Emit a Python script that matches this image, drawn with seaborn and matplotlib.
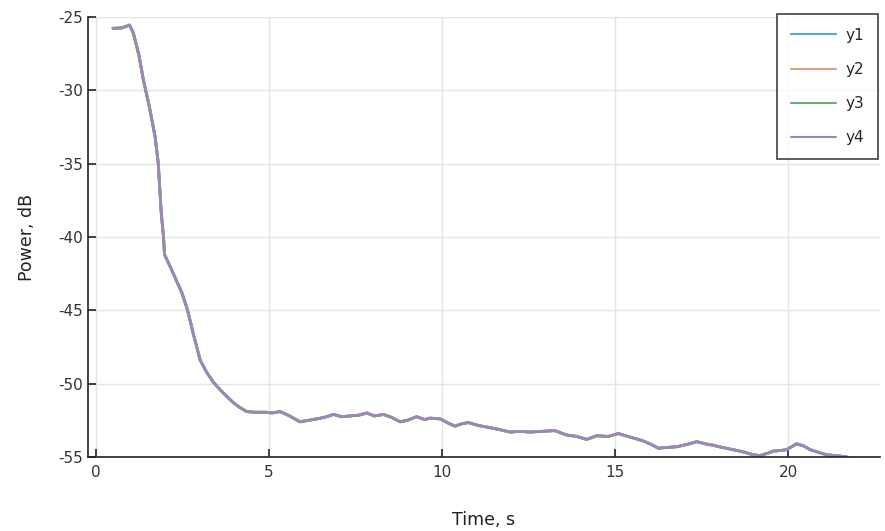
import numpy as np
import pandas as pd
import matplotlib
matplotlib.use("Agg")
import matplotlib.pyplot as plt
import seaborn as sns

# ---- data ----
time_s = [0.50, 0.75, 0.98, 1.09, 1.25, 1.38, 1.55, 1.72, 1.81, 1.89, 1.96, 1.99,
          2.15, 2.32, 2.49, 2.63, 2.73, 2.82, 3.02, 3.20, 3.40, 3.59, 3.80, 3.98,
          4.15, 4.36, 4.60, 4.94, 5.10, 5.33, 5.60, 5.90, 6.15, 6.39, 6.60, 6.87,
          7.10, 7.35, 7.60, 7.83, 8.05, 8.31, 8.55, 8.79, 9.00, 9.27, 9.50, 9.66,
          9.95, 10.19, 10.38, 10.55, 10.76, 11.05, 11.39, 11.70, 11.97, 12.25, 12.54,
          12.90, 13.26, 13.60, 13.90, 14.18, 14.47, 14.80, 15.09, 15.45, 15.81, 16.05,
          16.25, 16.50, 16.78, 16.97, 17.15, 17.36, 17.60, 17.83, 18.10, 18.41, 18.70,
          18.99, 19.18, 19.40, 19.57, 19.80, 19.95, 20.10, 20.24, 20.45, 20.63, 20.90,
          21.11, 21.35, 21.54, 21.70]
power_db = [-25.77, -25.75, -25.55, -26.1, -27.6, -29.3, -31.1, -33.2, -35.0, -38.2, -40.0, -41.2,
            -42.0, -42.9, -43.8, -44.8, -45.7, -46.6, -48.4, -49.2, -49.9, -50.4, -50.9, -51.3,
            -51.6, -51.9, -51.95, -51.95, -52.0, -51.9, -52.2, -52.6, -52.5, -52.4, -52.3, -52.1,
            -52.25, -52.2, -52.15, -52.0, -52.2, -52.1, -52.3, -52.6, -52.5, -52.25, -52.45, -52.35,
            -52.4, -52.7, -52.9, -52.75, -52.65, -52.85, -53.0, -53.15, -53.3, -53.25, -53.3,
            -53.25, -53.2, -53.5, -53.6, -53.8, -53.55, -53.6, -53.4, -53.65, -53.9, -54.15,
            -54.4, -54.35, -54.3, -54.2, -54.1, -53.95, -54.1, -54.2, -54.35, -54.5, -54.65,
            -54.85, -54.9, -54.75, -54.6, -54.55, -54.5, -54.3, -54.1, -54.25, -54.5, -54.7,
            -54.85, -54.9, -54.95, -55.0]
series_names = ["y1", "y2", "y3", "y4"]
series_values = {
    "y1": power_db,
    "y2": power_db,
    "y3": power_db,
    "y4": power_db,
}
x_ticks = [0, 5, 10, 15, 20]
y_ticks = [-55, -50, -45, -40, -35, -30, -25]
colors = ["#5aa3cc", "#d9a386", "#6aab78", "#a086b8"]

rows = []
for name in series_names:
    for t, p in zip(time_s, series_values[name]):
        rows.append({"Time": t, "Power": p, "series": name})
df = pd.DataFrame(rows)

sns.set_theme(style="white")
plt.rcParams['font.family'] = ['DejaVu Sans']
plt.rcParams['axes.unicode_minus'] = False

fig = plt.figure(figsize=(8.85, 5.31), dpi=100)
ax = fig.add_axes([88 / 885, 1 - 457 / 531, (880 - 88) / 885, (457 - 17) / 531])

sns.lineplot(data=df, x="Time", y="Power", hue="series", hue_order=series_names,
             palette=colors, linewidth=2.0, ax=ax, estimator=None, sort=False)

ax.set_xlim(-0.22, 22.65)
ax.set_ylim(-55, -25)
ax.set_xticks(x_ticks)
ax.set_yticks(y_ticks)
ax.grid(True, color="#e4e4e4", linewidth=1.0)
ax.set_axisbelow(True)
for s in ["top", "right"]:
    ax.spines[s].set_visible(False)
for s in ["left", "bottom"]:
    ax.spines[s].set_color("#222222")
    ax.spines[s].set_linewidth(1.2)
ax.tick_params(axis="both", direction="in", length=6, width=1.2, color="#222222",
               labelsize=11, labelcolor="#333333", bottom=True, left=True)
ax.tick_params(axis="x", pad=6)
ax.set_xlabel("Time, s", fontsize=12.5, color="#222222", labelpad=22)
ax.set_ylabel("Power, dB", fontsize=12.5, color="#222222", labelpad=16)

leg = ax.legend(loc="upper right", bbox_to_anchor=(878 / 885, 1 - 14 / 531),
                bbox_transform=fig.transFigure, frameon=True, fancybox=False,
                edgecolor="#111111", fontsize=11, handlelength=3.0, labelspacing=1.25,
                borderpad=0.9, handletextpad=0.6, borderaxespad=0)
leg.get_frame().set_linewidth(1.2)
for line in leg.get_lines():
    line.set_linewidth(1.5)

fig.savefig("out.png", dpi=100)
